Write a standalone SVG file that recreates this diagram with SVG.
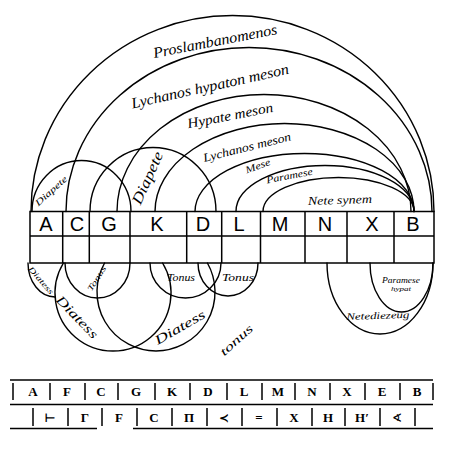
<svg xmlns="http://www.w3.org/2000/svg" width="459" height="455" viewBox="0 0 459 455">
<style>
.ln{fill:none;stroke:#000;stroke-width:1.4;stroke-linecap:round}
.tb{fill:none;stroke:#000;stroke-width:1.5}
.hw{font-family:"Liberation Serif",serif;font-style:italic;fill:#000;text-anchor:middle}
.bx{font-family:"Liberation Sans",sans-serif;font-size:20px;fill:#000;text-anchor:middle}
.nt{font-family:"Liberation Serif","DejaVu Serif",serif;font-weight:bold;font-size:13px;fill:#000;text-anchor:middle}
.ns{font-family:"DejaVu Sans","Liberation Serif",serif;font-weight:bold;font-size:12px;fill:#000;text-anchor:middle}
</style>
<rect width="459" height="455" fill="#fff"/>

<g id="connectors">
  <g id="arcs-above">
    <path class="ln" d="M31,211.5 A201.5,196 0 0 1 434,211.5"/>
    <path class="ln" d="M66,211.5 A183,164 0 0 1 432,211.5"/>
    <path class="ln" d="M117,211.5 A147,117 0 0 1 411,211.5"/>
    <path class="ln" d="M155,211.5 A129.5,88 0 0 1 414,211.5"/>
    <path class="ln" d="M195,211.5 A109.5,58 0 0 1 414,211.5"/>
    <path class="ln" d="M236,211.5 A89,46 0 0 1 414,211.5"/>
    <path class="ln" d="M263,211.5 A75.5,34 0 0 1 414,211.5"/>
    <path class="ln" d="M32,211.5 A49.5,51 0 0 1 131,211.5"/>
    <path class="ln" d="M90,211.5 A63,64 0 0 1 216,211.5"/>
  </g>
  <g id="arcs-below">
    <path class="ln" d="M28,263 A27,34 0 0 0 55,297"/>
    <path class="ln" d="M63.4,263 A58,58 0 1 0 162.6,263"/>
    <path class="ln" d="M104.6,263 A59,59 0 1 0 207.4,263"/>
    <path class="ln" d="M65,263 A32.5,35 0 0 0 130,263"/>
    <path class="ln" d="M150,263 A35.5,35 0 0 0 221,263"/>
    <path class="ln" d="M198,263 A30,33 0 0 0 258,263"/>
    <path class="ln" d="M327,263 A53,71 0 0 0 433,263"/>
    <path class="ln" d="M370,263 A31.5,49 0 0 0 433,263"/>
  </g>
</g>

<g id="arc-labels">
  <text class="hw" font-size="15" textLength="126" lengthAdjust="spacingAndGlyphs" transform="translate(216,46) rotate(-11)">Proslambanomenos</text>
  <text class="hw" font-size="15" textLength="161" lengthAdjust="spacingAndGlyphs" transform="translate(211,91) rotate(-12.5)">Lychanos hypaton meson</text>
  <text class="hw" font-size="14" textLength="87" lengthAdjust="spacingAndGlyphs" transform="translate(231,120) rotate(-11)">Hypate meson</text>
  <text class="hw" font-size="12" textLength="90" lengthAdjust="spacingAndGlyphs" transform="translate(248,151) rotate(-14)">Lychanos meson</text>
  <text class="hw" font-size="10" textLength="26" lengthAdjust="spacingAndGlyphs" transform="translate(259,169) rotate(-20)">Mese</text>
  <text class="hw" font-size="10" textLength="47" lengthAdjust="spacingAndGlyphs" transform="translate(290,179) rotate(-11)">Paramese</text>
  <text class="hw" font-size="12" textLength="64" lengthAdjust="spacingAndGlyphs" transform="translate(340,204) rotate(-2)">Nete synem</text>
  <text class="hw" font-size="9" textLength="40" lengthAdjust="spacingAndGlyphs" transform="translate(53,193) rotate(-42)">Diapete</text>
  <text class="hw" font-size="15" textLength="56" lengthAdjust="spacingAndGlyphs" transform="translate(152,180) rotate(-66)">Diapete</text>
  <text class="hw" font-size="8" textLength="34" lengthAdjust="spacingAndGlyphs" transform="translate(39,282) rotate(49)">Diatess</text>
  <text class="hw" font-size="13" textLength="54" lengthAdjust="spacingAndGlyphs" transform="translate(74,320) rotate(46)">Diatess</text>
  <text class="hw" font-size="8" textLength="28" lengthAdjust="spacingAndGlyphs" transform="translate(99,280) rotate(-58)">Tonus</text>
  <text class="hw" font-size="13" textLength="56" lengthAdjust="spacingAndGlyphs" transform="translate(182,331) rotate(-30)">Diatess</text>
  <text class="hw" font-size="10" textLength="28" lengthAdjust="spacingAndGlyphs" transform="translate(181,281)">Tonus</text>
  <text class="hw" font-size="10" textLength="32" lengthAdjust="spacingAndGlyphs" transform="translate(238,281)">Tonus</text>
  <text class="hw" font-size="12" textLength="40" lengthAdjust="spacingAndGlyphs" transform="translate(239,343) rotate(-42)">tonus</text>
  <text class="hw" font-size="10" textLength="63" lengthAdjust="spacingAndGlyphs" transform="translate(378,319) rotate(-2)">Netediezeug</text>
  <text class="hw" font-size="7.5" textLength="38" lengthAdjust="spacingAndGlyphs" transform="translate(401,283)">Paramese</text>
  <text class="hw" font-size="7" textLength="20" lengthAdjust="spacingAndGlyphs" transform="translate(401,291)">hypat</text>
</g>

<g id="scale-box">
  <rect class="tb" x="30" y="211.5" width="404" height="51.5"/>
  <line class="tb" x1="30" y1="236" x2="434" y2="236"/>
  <path class="tb" d="M62.7,211.5V263 M89.3,211.5V263 M130,211.5V263 M186.7,211.5V263 M221.7,211.5V263 M260.5,211.5V263 M305,211.5V263 M347,211.5V263 M394,211.5V263"/>
  <g id="box-A"><text class="bx" x="46" y="230.5">A</text></g>
  <g id="box-C"><text class="bx" x="77" y="230.5">C</text></g>
  <g id="box-G"><text class="bx" x="109" y="230.5">G</text></g>
  <g id="box-K"><text class="bx" x="157" y="230.5">K</text></g>
  <g id="box-D"><text class="bx" x="203" y="230.5" font-size="17">D</text></g>
  <g id="box-L"><text class="bx" x="239" y="230.5">L</text></g>
  <g id="box-M"><text class="bx" x="280" y="230.5">M</text></g>
  <g id="box-N"><text class="bx" x="325" y="230.5">N</text></g>
  <g id="box-X"><text class="bx" x="372" y="230.5">X</text></g>
  <g id="box-B"><text class="bx" x="413" y="230.5">B</text></g>
</g>

<g id="notation-table">
  <line class="tb" x1="10" y1="380" x2="433" y2="380" stroke-width="2"/>
  <line class="tb" x1="10" y1="404.5" x2="433" y2="404.5"/>
  <path class="tb" d="M10,428.5H97 M133,428.5H433"/>
  <path class="tb" d="M13,383V400 M50,383V400 M85,383V400 M118,383V400 M155,383V400 M190,383V400 M227,383V400 M262,383V400 M295,383V400 M330,383V400 M365,383V400 M400,383V400 M433,383V400"/>
  <path class="tb" d="M33,408V426 M68,408V426 M102,408V426 M137,408V426 M172,408V426 M207,408V426 M242,408V426 M277,408V426 M312,408V426 M345,408V426 M380,408V426 M415,408V426"/>
  <g id="row-latin">
    <text class="nt" x="33" y="396">A</text>
    <text class="nt" x="67" y="396">F</text>
    <text class="nt" x="101" y="396">C</text>
    <text class="nt" x="136" y="396">G</text>
    <text class="nt" x="172" y="396">K</text>
    <text class="nt" x="208" y="396">D</text>
    <text class="nt" x="244" y="396">L</text>
    <text class="nt" x="278" y="396">M</text>
    <text class="nt" x="312" y="396">N</text>
    <text class="nt" x="347" y="396">X</text>
    <text class="nt" x="382" y="396">E</text>
    <text class="nt" x="417" y="396">B</text>
  </g>
  <g id="row-greek">
    <text class="ns" x="50" y="422">⊢</text>
    <text class="nt" x="85" y="422">Γ</text>
    <text class="nt" x="119" y="422" font-size="11">F</text>
    <text class="nt" x="154" y="422" font-size="11">C</text>
    <text class="nt" x="189" y="422">Π</text>
    <text class="ns" x="224" y="422">≺</text>
    <text class="nt" x="259" y="422">=</text>
    <text class="nt" x="294" y="422">X</text>
    <text class="nt" x="328" y="422" font-size="11">H</text>
    <text class="nt" x="362" y="422" font-size="11">H′</text>
    <text class="ns" x="397" y="422">∢</text>
  </g>
</g>
</svg>
